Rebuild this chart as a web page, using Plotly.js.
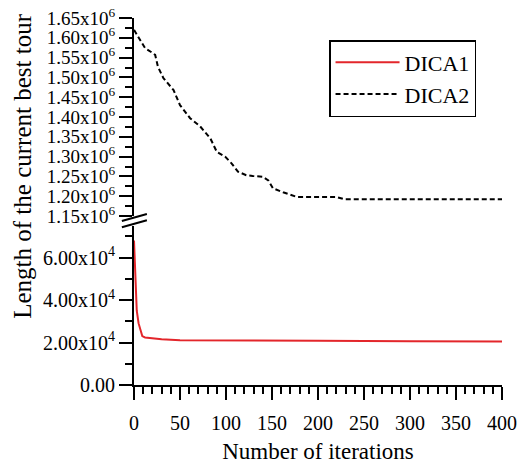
<!DOCTYPE html>
<html>
<head>
<meta charset="utf-8">
<script src="https://cdn.plot.ly/plotly-3.0.1.min.js"></script>
<style>html,body{margin:0;padding:0;background:#fff;}#chart{width:521px;height:466px;}</style>
</head>
<body>
<div id="chart"></div>
<script>
// ---- data ----
const dica1Iter = [0, 1, 2, 3, 5, 7, 9, 12, 20, 30, 50, 100, 200, 300, 400];
const dica1Len  = [68000, 55000, 39000, 35000, 29000, 25500, 23000, 22400, 21900, 21500, 21100, 20900, 20800, 20600, 20500];

const dica2Iter = [0, 5, 12, 20, 23, 26, 32, 43, 50, 61, 72, 83, 90, 99, 106, 113, 122, 129, 140, 146, 151, 162, 177, 220, 229, 400];
const dica2Len  = [1620000, 1600000, 1574000, 1562000, 1557000, 1527000, 1498000, 1468000, 1430000, 1397000, 1376000, 1346000, 1312000, 1300000, 1283000, 1262000, 1253000, 1251000, 1249000, 1240000, 1220000, 1210000, 1198000, 1198000, 1192000, 1192000];

const upperTickVals = [1150000, 1200000, 1250000, 1300000, 1350000, 1400000, 1450000, 1500000, 1550000, 1600000, 1650000];
const upperTickText = ["1.15x10<sup>6</sup>", "1.20x10<sup>6</sup>", "1.25x10<sup>6</sup>", "1.30x10<sup>6</sup>", "1.35x10<sup>6</sup>", "1.40x10<sup>6</sup>", "1.45x10<sup>6</sup>", "1.50x10<sup>6</sup>", "1.55x10<sup>6</sup>", "1.60x10<sup>6</sup>", "1.65x10<sup>6</sup>"];
const lowerTickVals = [0, 20000, 40000, 60000];
const lowerTickText = ["0.00", "2.00x10<sup>4</sup>", "4.00x10<sup>4</sup>", "6.00x10<sup>4</sup>"];
const xTickVals = [0, 50, 100, 150, 200, 250, 300, 350, 400];

const seriesNames = ["DICA1", "DICA2"];
const xTitle = "Number of iterations";
const yTitle = "Length of the current best tour";

// ---- chart ----
const FONT = "Liberation Serif, Times New Roman, serif";

const traces = [
  {x: dica1Iter, y: dica1Len, name: seriesNames[0], type: "scatter", mode: "lines",
   line: {color: "#e3262b", width: 2}, yaxis: "y"},
  {x: dica2Iter, y: dica2Len, name: seriesNames[1], type: "scatter", mode: "lines",
   line: {color: "#000000", width: 2, dash: "5px,3px"}, yaxis: "y2"}
];

const axisCommon = {
  showgrid: false, zeroline: false, showline: true, linecolor: "#000", linewidth: 2,
  ticks: "outside", ticklen: 13, tickwidth: 2, tickcolor: "#000",
  tickfont: {family: FONT, size: 20, color: "#000"}
};

const layout = {
  width: 521, height: 466,
  margin: {l: 134, r: 19, t: 18, b: 81},
  paper_bgcolor: "#fff", plot_bgcolor: "#fff",
  font: {family: FONT, color: "#000"},
  showlegend: true,
  legend: {x: 0.53, y: 0.94, xanchor: "left", yanchor: "top",
           bgcolor: "#fff", bordercolor: "#000", borderwidth: 1.5,
           itemwidth: 64,
           font: {family: FONT, size: 22, color: "#000"}},
  xaxis: Object.assign({}, axisCommon, {
    range: [0, 400], anchor: "y",
    tickmode: "array", tickvals: xTickVals, ticklabelstandoff: 6,
    minor: {dtick: 10, ticks: "outside", ticklen: 7, tickwidth: 2, tickcolor: "#000"},
    title: {text: xTitle, font: {family: FONT, size: 23, color: "#000"}, standoff: 10}
  }),
  yaxis: Object.assign({}, axisCommon, {
    domain: [0, 0.434], range: [0, 75000], anchor: "x",
    tickmode: "array", tickvals: lowerTickVals, ticktext: lowerTickText,
    minor: {dtick: 10000, tick0: 0, ticks: "outside", ticklen: 7, tickwidth: 2, tickcolor: "#000"}
  }),
  yaxis2: Object.assign({}, axisCommon, {
    domain: [0.4605, 1], range: [1150000, 1650000], anchor: "x",
    tickmode: "array", tickvals: upperTickVals, ticktext: upperTickText,
    tickfont: {family: FONT, size: 19, color: "#000"},
    minor: {dtick: 25000, tick0: 1150000, ticks: "outside", ticklen: 7, tickwidth: 2, tickcolor: "#000"}
  }),
  annotations: [{
    text: yTitle, textangle: -90, showarrow: false,
    xref: "paper", yref: "paper", x: -0.302, y: 0.597,
    xanchor: "center", yanchor: "middle",
    font: {family: FONT, size: 25, color: "#000"}
  }],
  shapes: [
    {type: "line", xref: "paper", yref: "paper", x0: -0.033, y0: 0.447, x1: 0.035, y1: 0.466, line: {color: "#000", width: 2}},
    {type: "line", xref: "paper", yref: "paper", x0: -0.033, y0: 0.430, x1: 0.035, y1: 0.449, line: {color: "#000", width: 2}}
  ]
};

Plotly.newPlot("chart", traces, layout, {staticPlot: true, displayModeBar: false});
</script>
</body>
</html>
